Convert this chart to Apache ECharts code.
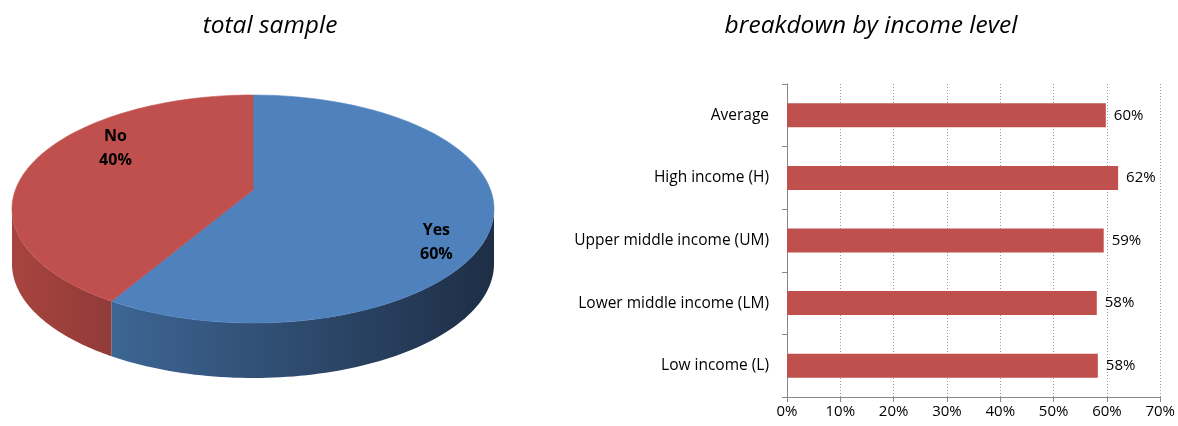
<!DOCTYPE html>
<html>
<head>
<meta charset="utf-8">
<script src="https://cdn.jsdelivr.net/npm/echarts@6/dist/echarts.min.js"></script>
<style>
html,body{margin:0;padding:0;background:#fff;}
#c{width:1178px;height:426px;}
</style>
</head>
<body>
<div id="c"></div>
<script>
// ---- data ----
const pieNames = ['Yes', 'No'];
const pieValues = [60, 40];
const barCategories = ['Average', 'High income (H)', 'Upper middle income (UM)', 'Lower middle income (LM)', 'Low income (L)'];
const barValues = [59.8, 62.1, 59.4, 58.1, 58.3];
const xTicks = [0, 10, 20, 30, 40, 50, 60, 70];
const titles = ['total sample', 'breakdown by income level'];

// ---- layout / style ----
const FONT = '"Open Sans", "Noto Sans", sans-serif';
const pieLayout = { cx: 253, cy: 209, rx: 241, ry: 114, depth: 55, lift: 19 };
const pieTopColors = ['#4F81BD', '#C0504D'];
const pieSideColors = [['#3D6694', '#1E2E46'], ['#A8443F', '#913B38']];
const pieLabelAnchor = [{ f: 0.8, dy: 5 }, { f: 0.6, dy: -39 }];

const total = pieValues.reduce((a, b) => a + b, 0);
const pieData = pieValues.map((v, i) => [v, pieValues.slice(0, i).reduce((a, b) => a + b, 0)]);

function rim(t, dy) {
  return [pieLayout.cx + pieLayout.rx * Math.cos(t), pieLayout.cy + pieLayout.ry * Math.sin(t) + (dy || 0)];
}

function renderPie(params, api) {
  const i = params.dataIndex;
  const v = api.value(0), before = api.value(1);
  const START = -Math.PI / 2;
  const t0 = START + before / total * 2 * Math.PI;
  const t1 = t0 + v / total * 2 * Math.PI;
  const N = 80;
  const children = [];
  // top face
  const top = [[pieLayout.cx, pieLayout.cy - pieLayout.lift]];
  for (let k = 0; k <= N; k++) top.push(rim(t0 + (t1 - t0) * k / N));
  children.push({
    type: 'polygon', z2: 10,
    shape: { points: top },
    style: { fill: pieTopColors[i], stroke: pieTopColors[i], lineWidth: 0.6 }
  });
  // side walls (front half only)
  [[0, Math.PI], [2 * Math.PI, 3 * Math.PI], [-2 * Math.PI, -Math.PI]].forEach(([a, b]) => {
    const s = Math.max(a, t0), e = Math.min(b, t1);
    if (e <= s) return;
    const pts = [];
    for (let k = 0; k <= N; k++) pts.push(rim(s + (e - s) * k / N));
    for (let k = N; k >= 0; k--) pts.push(rim(s + (e - s) * k / N, pieLayout.depth));
    children.push({
      type: 'polygon', z2: 1,
      shape: { points: pts },
      style: {
        fill: { type: 'linear', x: 0, y: 0, x2: 1, y2: 0,
          colorStops: [{ offset: 0, color: pieSideColors[i][0] }, { offset: 1, color: pieSideColors[i][1] }] },
        stroke: null
      }
    });
  });
  // label
  const mid = (t0 + t1) / 2;
  const an = pieLabelAnchor[i];
  const p = [pieLayout.cx + an.f * pieLayout.rx * Math.cos(mid), pieLayout.cy + an.f * pieLayout.ry * Math.sin(mid) + an.dy];
  children.push({
    type: 'text', z2: 20,
    style: {
      text: pieNames[i] + '\n' + Math.round(v / total * 100) + '%',
      x: p[0], y: p[1], align: 'center', verticalAlign: 'middle',
      font: 'bold 16px ' + FONT, fill: '#000', lineHeight: 24
    }
  });
  return { type: 'group', children };
}

const chart = echarts.init(document.getElementById('c'), null, { renderer: 'canvas' });
chart.setOption({
  animation: false,
  backgroundColor: '#fff',
  title: [
    { text: titles[0], left: 265, top: 9, textAlign: 'center',
      textStyle: { fontFamily: FONT, fontStyle: 'italic', fontWeight: 'normal', fontSize: 24.5, color: '#000' } },
    { text: titles[1], left: 866, top: 9, textAlign: 'center',
      textStyle: { fontFamily: FONT, fontStyle: 'italic', fontWeight: 'normal', fontSize: 24.5, color: '#000' } }
  ],
  grid: [{ left: 787, right: 16, top: 84, bottom: 29 }],
  xAxis: [{
    type: 'value', gridIndex: 0, min: xTicks[0], max: xTicks[xTicks.length - 1], interval: 10,
    axisLine: { show: true, lineStyle: { color: '#888' } },
    axisTick: { show: true, length: 5, lineStyle: { color: '#888' } },
    axisLabel: { formatter: '{value}%', color: '#000', fontFamily: FONT, fontSize: 15, margin: 7 },
    splitLine: { show: true, lineStyle: { color: '#999', type: [1, 2], width: 1 } }
  }],
  yAxis: [{
    type: 'category', gridIndex: 0, data: barCategories, inverse: true,
    axisLine: { show: true, lineStyle: { color: '#888' } },
    axisTick: { show: true, length: 5, lineStyle: { color: '#888' } },
    axisLabel: { color: '#000', fontFamily: FONT, fontSize: 15.5, margin: 18 }
  }],
  series: [
    {
      type: 'custom', coordinateSystem: 'none', data: pieData, renderItem: renderPie, silent: true
    },
    {
      type: 'bar', xAxisIndex: 0, yAxisIndex: 0, data: barValues, barWidth: 24,
      itemStyle: { color: '#C0504D' },
      label: { show: true, position: 'right', distance: 8, color: '#000', fontFamily: FONT, fontSize: 15,
        formatter: p => Math.round(p.value) + '%' }
    }
  ]
});
</script>
</body>
</html>
